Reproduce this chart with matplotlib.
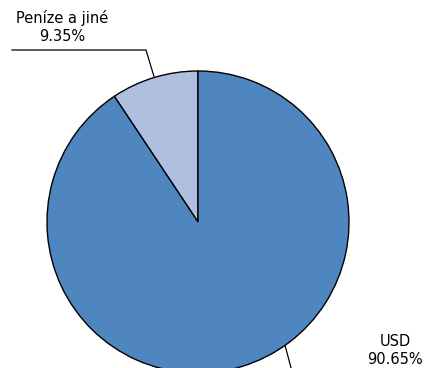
import numpy as np
import matplotlib.pyplot as plt

labels = ['Peníze a jiné', 'USD']
shares = [9.35, 90.65]
colors = ['#AFBFDF', '#4F86BF']

W, H = 425, 368
cx, cy, r = 198, H - 222, 151

fig = plt.figure(figsize=(W / 100, H / 100), dpi=100)
ax = fig.add_axes([0, 0, 1, 1])

wedges, _ = ax.pie(shares, colors=colors, startangle=90, counterclock=True,
                   center=(cx, cy), radius=r, frame=True,
                   wedgeprops=dict(edgecolor='black', linewidth=1))
ax.set_xlim(0, W)
ax.set_ylim(0, H)
ax.set_aspect('equal')
ax.axis('off')

# leader for small slice, starts at the wedge mid-angle
w = wedges[0]
mid = np.deg2rad((w.theta1 + w.theta2) / 2)
x0, y0 = cx + r * np.cos(mid), cy + r * np.sin(mid)
ax.plot([x0, 146, 12], [y0, H - 50, H - 50], color='black', lw=0.9)
ax.text(62, H - 27, f'{labels[0]}\n{shares[0]:.2f}%', ha='center', va='center',
        fontsize=10.5, linespacing=1.25)

# leader for USD
ang = np.deg2rad(-54.8)
x1, y1 = cx + r * np.cos(ang), cy + r * np.sin(ang)
ax.plot([x1, x1 + 8], [y1, y1 - 30], color='black', lw=0.9)
ax.text(395, H - 350, f'{labels[1]}\n{shares[1]:.2f}%', ha='center', va='center',
        fontsize=10.5, linespacing=1.25)

fig.savefig('out.png', dpi=100)
